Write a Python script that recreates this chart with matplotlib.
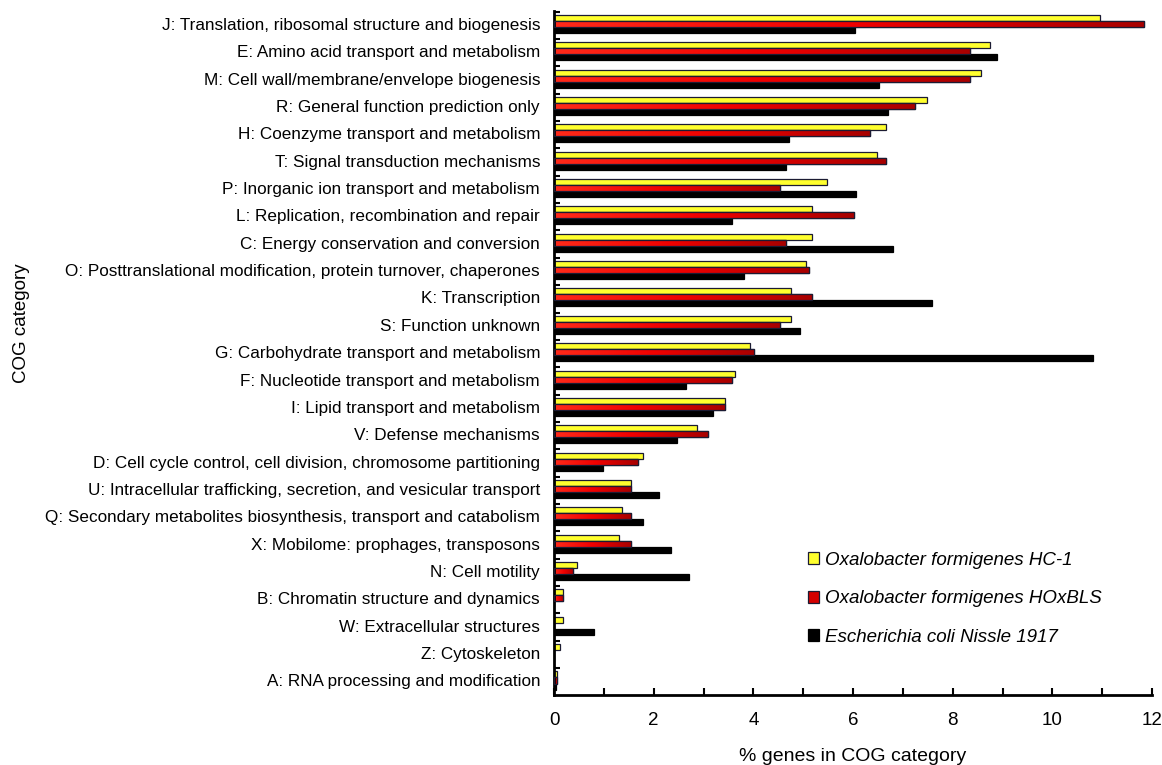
import numpy as np
import matplotlib
matplotlib.use("Agg")
import matplotlib.pyplot as plt
from matplotlib.ticker import MultipleLocator, FixedLocator
from matplotlib.colors import LinearSegmentedColormap

plt.rcParams['font.family'] = ['Liberation Sans', 'DejaVu Sans']

categories = [
    "J: Translation, ribosomal structure and biogenesis",
    "E: Amino acid transport and metabolism",
    "M: Cell wall/membrane/envelope biogenesis",
    "R: General function prediction only",
    "H: Coenzyme transport and metabolism",
    "T: Signal transduction mechanisms",
    "P: Inorganic ion transport and metabolism",
    "L: Replication, recombination and repair",
    "C: Energy conservation and conversion",
    "O: Posttranslational modification, protein turnover, chaperones",
    "K: Transcription",
    "S: Function unknown",
    "G: Carbohydrate transport and metabolism",
    "F: Nucleotide transport and metabolism",
    "I: Lipid transport and metabolism",
    "V: Defense mechanisms",
    "D: Cell cycle control, cell division, chromosome partitioning",
    "U: Intracellular trafficking, secretion, and vesicular transport",
    "Q: Secondary metabolites biosynthesis, transport and catabolism",
    "X: Mobilome: prophages, transposons",
    "N: Cell motility",
    "B: Chromatin structure and dynamics",
    "W: Extracellular structures",
    "Z: Cytoskeleton",
    "A: RNA processing and modification",
]

hc1 = [10.95, 8.74, 8.56, 7.49, 6.66, 6.48, 5.47, 5.17, 5.17, 5.05, 4.76, 4.76,
       3.93, 3.63, 3.44, 2.86, 1.78, 1.55, 1.37, 1.31, 0.47, 0.19, 0.18, 0.12, 0.06]
hoxbls = [11.84, 8.34, 8.34, 7.24, 6.34, 6.66, 4.53, 6.02, 4.65, 5.11, 5.18, 4.53,
          4.01, 3.57, 3.43, 3.10, 1.68, 1.55, 1.55, 1.55, 0.39, 0.19, 0.0, 0.0, 0.06]
nissle = [6.04, 8.88, 6.52, 6.70, 4.72, 4.65, 6.07, 3.57, 6.81, 3.82, 7.58, 4.94,
          10.82, 2.65, 3.20, 2.46, 0.99, 2.11, 1.78, 2.34, 2.71, 0.0, 0.80, 0.0, 0.05]

series_names = ["Oxalobacter formigenes HC-1",
                "Oxalobacter formigenes HOxBLS",
                "Escherichia coli Nissle 1917"]

W, H = 1162, 765
fig = plt.figure(figsize=(W / 100, H / 100), dpi=100)
ax = fig.add_axes([554 / W, 1 - 695 / H, (1152 - 554) / W, (695 - 11) / H])

n = len(categories)
pos = np.arange(n)[::-1]  # J at top
bh = 0.22

edge = '#1b1b33'
b1 = ax.barh(pos + bh, hc1, height=bh, color='#ffff2e', edgecolor=edge, linewidth=0.9,
             label=series_names[0], zorder=2)
b2 = ax.barh(pos, hoxbls, height=bh, color='#d40000', edgecolor=edge, linewidth=0.9,
             label=series_names[1], zorder=2)
b3 = ax.barh(pos - bh, nissle, height=bh, color='#000000', edgecolor='#000000', linewidth=0.9,
             label=series_names[2], zorder=2)

# gradient on the red bars (bright left -> dark right)
grad = np.linspace(0, 1, 256).reshape(1, -1)
cmap = LinearSegmentedColormap.from_list('rg', ['#ff2a1a', '#f00000', '#a80000'])
for rect in b2.patches:
    w = rect.get_width()
    if w <= 0:
        continue
    x0, y0, hh = rect.get_x(), rect.get_y(), rect.get_height()
    im = ax.imshow(grad, extent=[x0, x0 + w, y0, y0 + hh], aspect='auto', cmap=cmap,
                   zorder=2.5, interpolation='bilinear')
    im.set_clip_path(rect)
    ax.add_patch(plt.Rectangle((x0, y0), w, hh, fill=False, edgecolor=edge,
                               linewidth=0.9, zorder=3))

ax.set_xlim(0, 12)
ax.set_ylim(-0.5 - 0.03, n - 1 + 0.47)

ax.set_yticks(pos)
ax.set_yticklabels(categories, fontsize=12.3)
ax.tick_params(axis='y', which='major', length=0, pad=10)
ax.yaxis.set_minor_locator(FixedLocator(np.arange(n) + 0.45))
ax.tick_params(axis='y', which='minor', direction='in', length=4, width=1.5, color='black')

ax.xaxis.set_major_locator(MultipleLocator(2))
ax.xaxis.set_minor_locator(MultipleLocator(1))
ax.tick_params(axis='x', which='both', direction='in', length=5, width=1.5, labelsize=13.5, pad=12)

for s in ['top', 'right']:
    ax.spines[s].set_visible(False)
for s in ['left', 'bottom']:
    ax.spines[s].set_linewidth(2)

ax.set_xlabel("% genes in COG category", fontsize=14, labelpad=14)
fig.text(22 / W, 1 - 323 / H, "COG category", rotation=90, fontsize=13.5,
         ha='center', va='center')

leg = ax.legend(loc='upper left', bbox_to_anchor=(791 / W, 1 - 535 / H),
                bbox_transform=fig.transFigure, frameon=False,
                prop={'style': 'italic', 'size': 13.5}, handlelength=0.6, handleheight=0.6,
                handletextpad=0.3, labelspacing=1.15)

fig.savefig("out.png", dpi=100)
